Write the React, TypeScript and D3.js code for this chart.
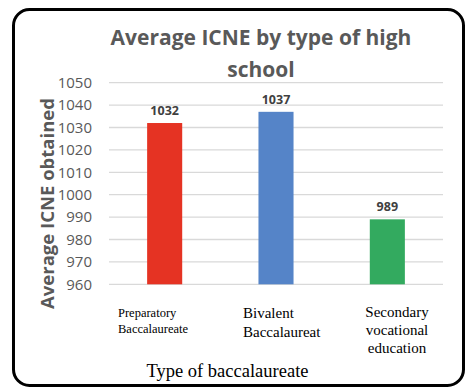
import React from "react";
import * as d3 from "d3";

const categories = ["Preparatory Baccalaureate", "Bivalent Baccalaureat", "Secondary vocational education"];
const values = [1032, 1037, 989];
const barColors = ["#E53323", "#5584C8", "#33AA5F"];
const yTicks = [960, 970, 980, 990, 1000, 1010, 1020, 1030, 1040, 1050];
const categoryLines = [["Preparatory", "Baccalaureate"], ["Bivalent", "Baccalaureat"], ["Secondary", "vocational", "education"]];

const W = 470;
const H = 389;
const plot = { left: 109, right: 443, top: 82.7, bottom: 284.3 };

export default function App() {
  const x = d3.scaleBand<string>().domain(categories).range([plot.left, plot.right]).paddingInner(0.685).paddingOuter(0.3425);
  const y = d3.scaleLinear().domain([960, 1050]).range([plot.bottom, plot.top]);
  const gray = "#595959";
  return (
    <svg width={W} height={H} style={{ position: "absolute", left: 0, top: 0, display: "block" }}>
      <rect x={0} y={0} width={W} height={H} fill="#fff" />
      <rect x={13.5} y={9.5} width={450} height={376} rx={16} ry={16} fill="#fff" stroke="#000" strokeWidth={3} />
      <g fontFamily="'Open Sans', sans-serif" fontWeight="bold" fill={gray} fontSize={21} textAnchor="middle">
        <text x={261} y={45}>Average ICNE by type of high</text>
        <text x={261} y={77}>school</text>
      </g>
      {yTicks.map((t) => (
        <g key={t}>
          <line x1={plot.left} x2={plot.right} y1={y(t)} y2={y(t)} stroke="#d9d9d9" strokeWidth={1.3} />
          <text x={92} y={y(t)} dy="0.35em" textAnchor="end" fontFamily="'Open Sans', sans-serif" fontSize={15} fill={gray}>
            {t}
          </text>
        </g>
      ))}
      {categories.map((c, i) => (
        <g key={c}>
          <rect x={x(c)} y={y(values[i])} width={x.bandwidth()} height={plot.bottom - y(values[i])} fill={barColors[i]} />
          <text x={(x(c) as number) + x.bandwidth() / 2} y={y(values[i]) - 8} textAnchor="middle" fontFamily="'Open Sans', sans-serif" fontWeight="bold" fontSize={12.5} fill="#404040">
            {values[i]}
          </text>
        </g>
      ))}
      <text transform="translate(54,203.5) rotate(-90)" textAnchor="middle" fontFamily="'Open Sans', sans-serif" fontWeight="bold" fontSize={18.5} fill={gray}>
        Average ICNE obtained
      </text>
      <g fontFamily="'Liberation Serif', serif" fill="#000">
        <text x={118} fontSize={12.5}>
          {categoryLines[0].map((l, k) => (
            <tspan key={k} x={118} y={316.7 + k * 16.5}>{l}</tspan>
          ))}
        </text>
        <text x={243} fontSize={15}>
          {categoryLines[1].map((l, k) => (
            <tspan key={k} x={243} y={318 + k * 18.5}>{l}</tspan>
          ))}
        </text>
        <text textAnchor="middle" fontSize={15}>
          {categoryLines[2].map((l, k) => (
            <tspan key={k} x={397} y={317 + k * 18}>{l}</tspan>
          ))}
        </text>
        <text x={227.5} y={377} textAnchor="middle" fontSize={18.5}>Type of baccalaureate</text>
      </g>
    </svg>
  );
}
